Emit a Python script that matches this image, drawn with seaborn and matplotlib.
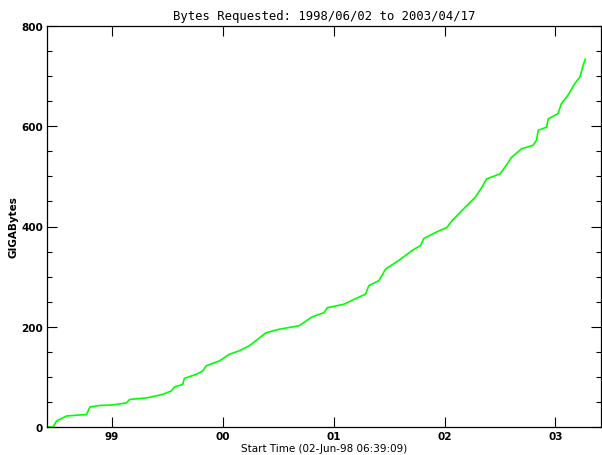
import datetime as dt
import numpy as np
import pandas as pd
import matplotlib
matplotlib.use("Agg")
import matplotlib.pyplot as plt
from matplotlib.ticker import FixedLocator, MultipleLocator, NullLocator
import seaborn as sns

# Cumulative bytes requested, days since start time vs. gigabytes
days = [0, 19, 30, 63, 129, 134, 140, 173, 215, 260, 271, 326, 380, 408, 419,
        446, 451, 490, 512, 523, 567, 599, 632, 665, 720, 763, 829, 873, 911,
        922, 977, 1015, 1048, 1059, 1092, 1114, 1157, 1201, 1229, 1240, 1278,
        1316, 1332, 1387, 1409, 1431, 1447, 1491, 1513, 1529, 1562, 1600, 1611,
        1617, 1644, 1650, 1682, 1693, 1715, 1737, 1754, 1765, 1772]
gigabytes = [0, 0, 12, 22, 25, 32, 40, 43, 44, 48, 55, 58, 65, 72, 80, 85, 97,
             105, 112, 122, 132, 145, 152, 162, 188, 195, 202, 220, 228, 238,
             245, 256, 265, 282, 292, 315, 332, 352, 362, 376, 388, 398, 411,
             445, 458, 478, 495, 505, 523, 538, 555, 562, 572, 592, 598, 615,
             625, 645, 662, 685, 698, 722, 734]

start = dt.datetime(1998, 6, 2, 6, 39, 9)
year_labels = ["99", "00", "01", "02", "03"]
year_ticks = [(dt.datetime(1999 + i, 1, 1) - start).total_seconds() / 86400.0
              for i in range(len(year_labels))]

df = pd.DataFrame({"days": days, "GB": gigabytes})

sns.set_style("ticks")
plt.rcParams["font.family"] = ["DejaVu Sans"]
plt.rcParams["text.color"] = "black"
plt.rcParams["axes.labelcolor"] = "black"
plt.rcParams["xtick.color"] = "black"
plt.rcParams["ytick.color"] = "black"

fig = plt.figure(figsize=(6.02, 4.56), dpi=100)
ax = fig.add_axes([47.4 / 602, 28 / 456, (600.5 - 47.4) / 602, (428 - 27) / 456])

sns.lineplot(data=df, x="days", y="GB", ax=ax, color="#00ff00", linewidth=1.2)

ax.set_xlim(0, 1822)
ax.set_ylim(0, 800)

ax.xaxis.set_major_locator(FixedLocator(year_ticks))
ax.set_xticklabels(year_labels)
ax.xaxis.set_minor_locator(NullLocator())
ax.yaxis.set_major_locator(MultipleLocator(200))
ax.yaxis.set_minor_locator(MultipleLocator(50))

ax.tick_params(axis="both", which="major", direction="in", length=7.5,
               width=0.8, color="black", top=True, right=True,
               labelsize=7.5, pad=3, labelcolor="black")
ax.tick_params(axis="y", which="minor", direction="in", length=3.8,
               width=0.8, color="black", left=True, right=True)
for lab in ax.get_xticklabels() + ax.get_yticklabels():
    lab.set_fontweight("bold")

for sp in ax.spines.values():
    sp.set_visible(True)
    sp.set_linewidth(0.9)
    sp.set_color("black")

ax.set_title("Bytes Requested: 1998/06/02 to 2003/04/17", fontsize=8.8,
             family="DejaVu Sans Mono", pad=5)
ax.set_xlabel("Start Time (02-Jun-98 06:39:09)", fontsize=7.5, labelpad=1)
ax.set_ylabel("GIGABytes", fontsize=7.5, fontweight="bold")
ax.yaxis.set_label_coords(-0.053, 0.5)

fig.savefig("out.png", dpi=100)
